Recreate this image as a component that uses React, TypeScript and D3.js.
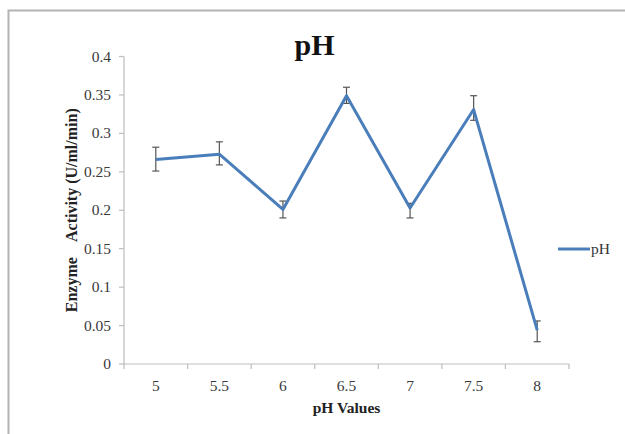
import { useEffect, useRef } from 'react';
import * as d3 from 'd3';

const categories = ['5', '5.5', '6', '6.5', '7', '7.5', '8'];
const activity = [0.266, 0.273, 0.201, 0.349, 0.203, 0.331, 0.044];
const errUpper = [0.282, 0.289, 0.212, 0.36, 0.209, 0.349, 0.056];
const errLower = [0.251, 0.259, 0.19, 0.339, 0.19, 0.317, 0.029];
const yTicks = [0, 0.05, 0.1, 0.15, 0.2, 0.25, 0.3, 0.35, 0.4];

const FONT = '"Liberation Serif", "Times New Roman", serif';

export default function App() {
  const svgRef = useRef<SVGSVGElement>(null);

  useEffect(() => {
    const svg = d3.select(svgRef.current);
    if (!svg.node()) return;
    svg.selectAll('*').remove();

    const width = 625;
    const height = 434;
    const margin = { top: 56.5, right: 56, bottom: 70, left: 124 };

    const x = d3
      .scaleBand<string>()
      .domain(categories)
      .range([margin.left, width - margin.right])
      .padding(0);
    const y = d3.scaleLinear().domain([0, 0.4]).range([height - margin.bottom, margin.top]);
    const cx = (c: string) => x(c)! + x.bandwidth() / 2;

    // outer frame of the pasted figure
    svg
      .append('path')
      .attr('d', `M8.5,${height} L8.5,10.5 L${width},10.5`)
      .attr('fill', 'none')
      .attr('stroke', '#b4b4b4')
      .attr('stroke-width', 2);

    const g = svg.append('g');

    // y axis
    g.append('line')
      .attr('x1', margin.left)
      .attr('x2', margin.left)
      .attr('y1', y(0))
      .attr('y2', y(0.4))
      .attr('stroke', '#bdbdbd')
      .attr('stroke-width', 1.2);
    g.selectAll('.ytick')
      .data(yTicks)
      .join('line')
      .attr('x1', margin.left - 5)
      .attr('x2', margin.left)
      .attr('y1', (d) => y(d))
      .attr('y2', (d) => y(d))
      .attr('stroke', '#bdbdbd')
      .attr('stroke-width', 1.2);
    g.selectAll('.ylab')
      .data(yTicks)
      .join('text')
      .attr('x', 111)
      .attr('y', (d) => y(d) + 5)
      .attr('text-anchor', 'end')
      .attr('font-family', FONT)
      .attr('font-size', 15.5)
      .attr('fill', '#3a3a3a')
      .text((d) => String(+d.toFixed(2)));

    // x axis
    const bounds = [...categories.map((c) => x(c)!), width - margin.right];
    g.append('line')
      .attr('x1', margin.left)
      .attr('x2', width - margin.right)
      .attr('y1', y(0))
      .attr('y2', y(0))
      .attr('stroke', '#bdbdbd')
      .attr('stroke-width', 1.2);
    g.selectAll('.xtick')
      .data(bounds)
      .join('line')
      .attr('x1', (d) => d)
      .attr('x2', (d) => d)
      .attr('y1', y(0))
      .attr('y2', y(0) + 5)
      .attr('stroke', '#bdbdbd')
      .attr('stroke-width', 1.2);
    g.selectAll('.xlab')
      .data(categories)
      .join('text')
      .attr('x', (d) => cx(d))
      .attr('y', 390.5)
      .attr('text-anchor', 'middle')
      .attr('font-family', FONT)
      .attr('font-size', 15.5)
      .attr('fill', '#3a3a3a')
      .text((d) => d);

    // error bars
    const eb = g.append('g').attr('stroke', '#555').attr('stroke-width', 1.2);
    categories.forEach((c, i) => {
      const px = cx(c);
      eb.append('line').attr('x1', px).attr('x2', px).attr('y1', y(errUpper[i])).attr('y2', y(errLower[i]));
      eb.append('line').attr('x1', px - 3.5).attr('x2', px + 3.5).attr('y1', y(errUpper[i])).attr('y2', y(errUpper[i]));
      eb.append('line').attr('x1', px - 3.5).attr('x2', px + 3.5).attr('y1', y(errLower[i])).attr('y2', y(errLower[i]));
    });

    // series line
    const line = d3
      .line<number>()
      .x((_, i) => cx(categories[i]))
      .y((d) => y(d));
    g.append('path')
      .datum(activity)
      .attr('d', line)
      .attr('fill', 'none')
      .attr('stroke', '#4a7ebb')
      .attr('stroke-width', 3)
      .attr('stroke-linejoin', 'round');

    // title
    svg
      .append('text')
      .attr('x', 314.5)
      .attr('y', 55)
      .attr('text-anchor', 'middle')
      .attr('font-family', FONT)
      .attr('font-weight', 'bold')
      .attr('font-size', 30)
      .attr('fill', '#111')
      .text('pH');

    // axis titles
    svg
      .append('text')
      .attr('x', (margin.left + width - margin.right) / 2)
      .attr('y', 413)
      .attr('text-anchor', 'middle')
      .attr('font-family', FONT)
      .attr('font-weight', 'bold')
      .attr('font-size', 15.5)
      .attr('fill', '#222')
      .text('pH Values');

    svg
      .append('text')
      .attr('transform', `translate(77,${(y(0) + y(0.4)) / 2}) rotate(-90)`)
      .attr('text-anchor', 'middle')
      .attr('font-family', FONT)
      .attr('font-weight', 'bold')
      .attr('font-size', 16)
      .attr('fill', '#222')
      .attr('xml:space', 'preserve')
      .style('white-space', 'pre')
      .text('Enzyme    Activity (U/ml/min)');

    // legend
    svg
      .append('line')
      .attr('x1', 558)
      .attr('x2', 590)
      .attr('y1', 249)
      .attr('y2', 249)
      .attr('stroke', '#4a7ebb')
      .attr('stroke-width', 3);
    svg
      .append('text')
      .attr('x', 591)
      .attr('y', 254)
      .attr('font-family', FONT)
      .attr('font-size', 15.5)
      .attr('fill', '#333')
      .text('pH');
  }, []);

  return (
    <div style={{ position: 'fixed', left: 0, top: 0, width: 625, height: 434, background: '#fff' }}>
      <svg ref={svgRef} width={625} height={434} style={{ display: 'block' }} />
    </div>
  );
}
